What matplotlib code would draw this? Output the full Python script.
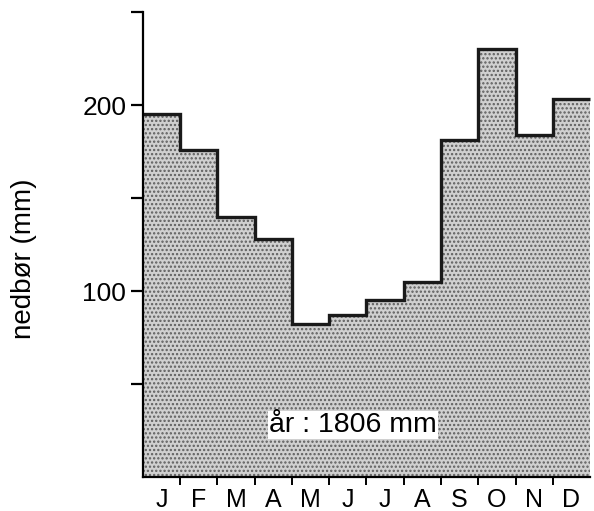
import numpy as np
import matplotlib.pyplot as plt

plt.rcParams['font.family'] = ['Liberation Sans', 'DejaVu Sans']
plt.rcParams['hatch.linewidth'] = 1.1

months = ['J', 'F', 'M', 'A', 'M', 'J', 'J', 'A', 'S', 'O', 'N', 'D']
nedbor = [195, 176, 140, 128, 82, 87, 95, 105, 181, 230, 184, 203]
aar_total = 1806

edges = np.arange(len(months) + 1)

fig = plt.figure(figsize=(5.94, 5.11), dpi=100)
ax = fig.add_axes([0.2407, 0.0665, 0.7526, 0.910])

# stippled fill + thick outline
ax.stairs(nedbor, edges, fill=True, facecolor='#d0d0d0', edgecolor='#5e5e5e',
          hatch='....', linewidth=0)
ax.stairs(nedbor, edges, baseline=None, color='#1a1a1a', linewidth=2.4,
          clip_on=False)

ax.set_xlim(0, 12)
ax.set_ylim(0, 250)

ax.spines['top'].set_visible(False)
ax.spines['right'].set_visible(False)
ax.spines['left'].set_linewidth(1.6)
ax.spines['bottom'].set_linewidth(1.6)

ax.set_yticks([50, 100, 150, 200, 250])
ax.set_yticklabels(['', '100', '', '200', ''])
ax.tick_params(axis='y', length=9, width=1.6, labelsize=19, pad=3)

ax.set_xticks(edges[:-1] + 0.5)
ax.set_xticklabels(months)
ax.set_xticks(edges[1:-1], minor=True)
ax.tick_params(axis='x', which='major', length=0, labelsize=18, pad=8)
ax.tick_params(axis='x', which='minor', length=6, width=1.4)

ax.set_ylabel('nedbør (mm)', fontsize=20)
ax.yaxis.set_label_coords(-0.237, 0.47)

ax.text(5.64, 28, f'år : {aar_total} mm', fontsize=20.5, ha='center', va='center',
        bbox=dict(facecolor='white', edgecolor='none', pad=1.0))

fig.savefig('out.png', dpi=100)
